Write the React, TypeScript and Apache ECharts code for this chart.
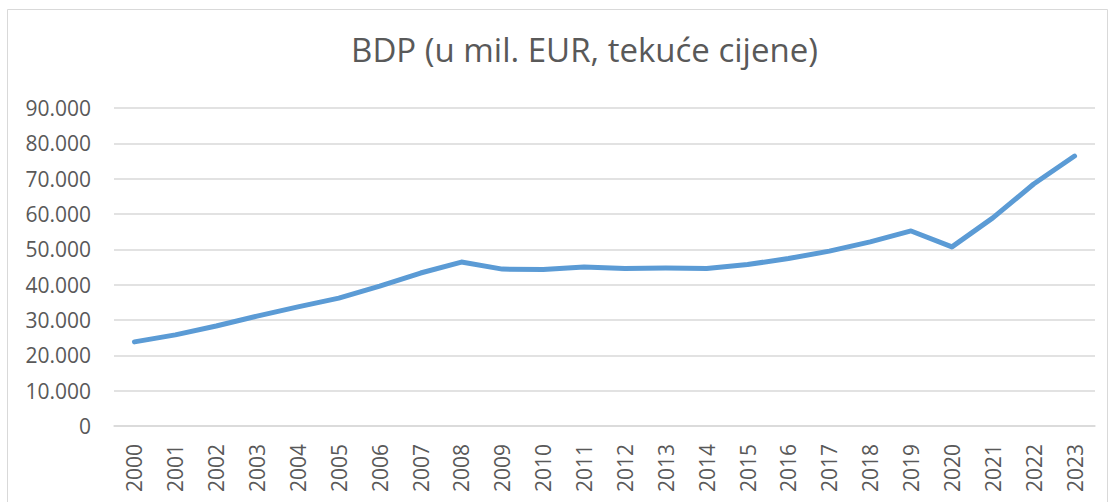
import React, { useEffect, useRef } from "react";
import * as echarts from "echarts";

const years = [
  "2000", "2001", "2002", "2003", "2004", "2005", "2006", "2007", "2008", "2009", "2010", "2011",
  "2012", "2013", "2014", "2015", "2016", "2017", "2018", "2019", "2020", "2021", "2022", "2023",
];
const gdp = [
  23800, 25800, 28300, 31100, 33700, 36200, 39600, 43300, 46400, 44400, 44300, 45000,
  44600, 44700, 44600, 45700, 47400, 49500, 52100, 55200, 50700, 58900, 68500, 76400,
];
const titleText = "BDP (u mil. EUR, tekuće cijene)";
const yMax = 90000;
const yStep = 10000;

function fmt(v: number): string {
  return String(Math.round(v)).replace(/\B(?=(\d{3})+(?!\d))/g, ".");
}

export default function App() {
  const ref = useRef<HTMLDivElement>(null);
  useEffect(() => {
    if (!ref.current) return;
    const chart = echarts.init(ref.current, null, { renderer: "svg" });
    chart.setOption({
      animation: false,
      backgroundColor: "#ffffff",
      textStyle: { fontFamily: "Open Sans" },
      graphic: [
        {
          type: "rect",
          shape: { x: 7.5, y: 9.5, width: 1100, height: 520 },
          style: { fill: "none", stroke: "#d9d9d9", lineWidth: 1 },
          silent: true,
        },
        {
          type: "text",
          x: 584.5,
          y: 49,
          style: {
            text: titleText,
            fontFamily: "Open Sans",
            fontSize: 33,
            fill: "#595959",
            align: "center",
            verticalAlign: "middle",
          },
        },
      ],
      grid: { left: 114, right: 15, top: 108, bottom: 76, containLabel: false },
      xAxis: {
        type: "category",
        data: years,
        boundaryGap: true,
        axisLine: { show: true, lineStyle: { color: "#d9d9d9", width: 1.5 } },
        axisTick: { show: false },
        axisLabel: {
          rotate: 90,
          interval: 0,
          margin: 18,
          color: "#595959",
          fontSize: 21,
          fontFamily: "Open Sans",
        },
      },
      yAxis: {
        type: "value",
        min: 0,
        max: yMax,
        interval: yStep,
        axisLine: { show: false },
        axisTick: { show: false },
        splitLine: { lineStyle: { color: "#d9d9d9", width: 1.5 } },
        axisLabel: {
          margin: 23,
          color: "#595959",
          fontSize: 21,
          fontFamily: "Open Sans",
          formatter: (v: number) => fmt(v),
        },
      },
      series: [
        {
          type: "line",
          data: gdp,
          showSymbol: false,
          symbol: "none",
          lineStyle: { color: "#5b9bd5", width: 5, cap: "round", join: "round" },
          itemStyle: { color: "#5b9bd5" },
        },
      ],
    });
    return () => chart.dispose();
  }, []);
  return (
    <div
      ref={ref}
      style={{ position: "absolute", left: 0, top: 0, width: 1110, height: 502 }}
    />
  );
}
